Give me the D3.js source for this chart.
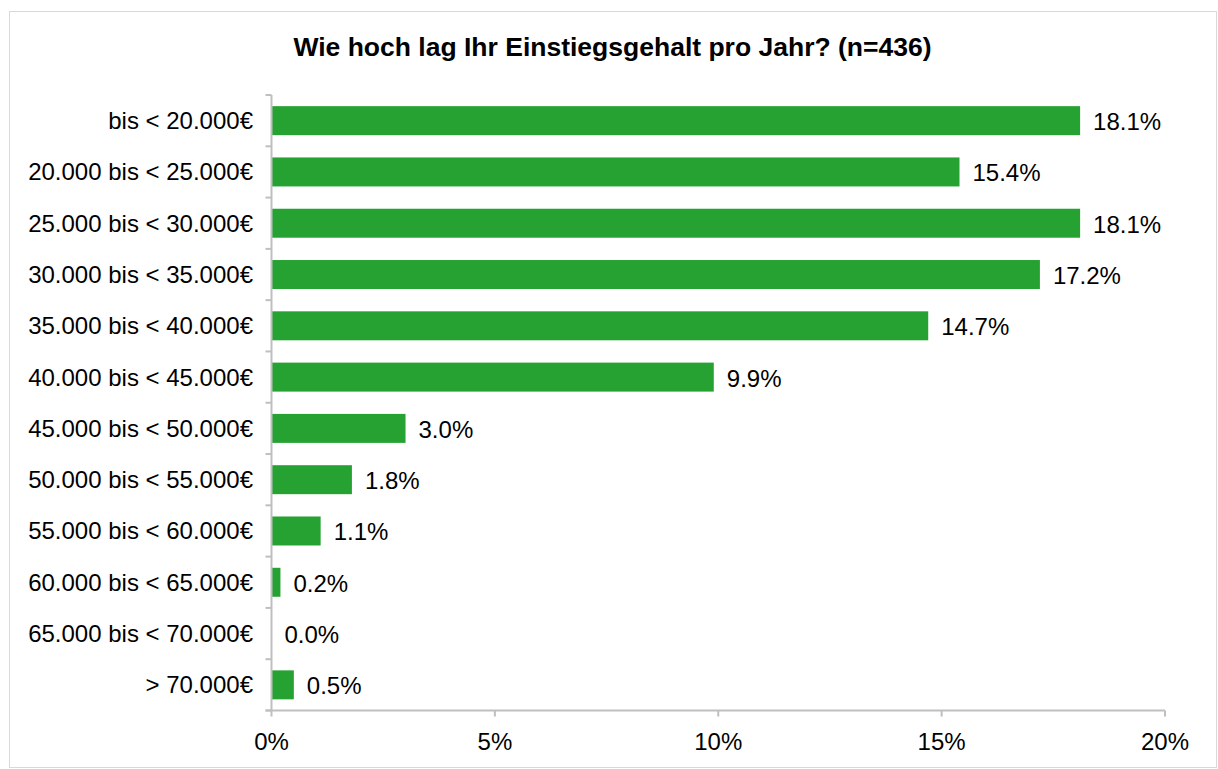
<!DOCTYPE html>
<html>
<head>
<meta charset="utf-8">
<script src="https://cdn.jsdelivr.net/npm/d3@7"></script>
<style>
  body { margin: 0; background: #fff; }
  text { font-family: "Liberation Sans", Arial, sans-serif; fill: #000; }
</style>
</head>
<body>
<div class="chart"></div>
<script>
// Einstiegsgehalt data
var categories = [
  'bis < 20.000€', '20.000 bis < 25.000€', '25.000 bis < 30.000€',
  '30.000 bis < 35.000€', '35.000 bis < 40.000€', '40.000 bis < 45.000€',
  '45.000 bis < 50.000€', '50.000 bis < 55.000€', '55.000 bis < 60.000€',
  '60.000 bis < 65.000€', '65.000 bis < 70.000€', '> 70.000€'
];
var percents = [18.1, 15.4, 18.1, 17.2, 14.7, 9.9, 3.0, 1.8, 1.1, 0.2, 0.0, 0.5];
var xTicks = [0, 5, 10, 15, 20];
var title = 'Wie hoch lag Ihr Einstiegsgehalt pro Jahr? (n=436)';

var w = 1218
  , h = 769
  , plotLeft = 271.5
  , plotRight = 1165
  , plotTop = 95
  , plotBottom = 710.5
  , axisColor = '#bfbfbf'
  , barColor = '#25a232'
  , labelSize = '24px';

var svg = d3.select('.chart')
            .append('svg')
            .attr('width', w)
            .attr('height', h);

// frame
svg.append('rect')
    .attr('x', 9.5)
    .attr('y', 11.5)
    .attr('width', 1207)
    .attr('height', 756)
    .attr('fill', 'none')
    .attr('stroke', '#d9d9d9');

svg.append('text')
    .attr('x', 612.5)
    .attr('y', 56)
    .attr('text-anchor', 'middle')
    .style('font-weight', 'bold')
    .style('font-size', '26.5px')
    .text(title);

var x = d3.scaleLinear().domain([0, 20]).range([plotLeft, plotRight]);
var y = d3.scaleBand().domain(categories).range([plotTop, plotBottom])
          .paddingInner(0.435).paddingOuter(0.2175);

// bars
svg.selectAll('rect.bar')
    .data(percents)
    .enter()
    .append('rect')
    .attr('class', 'bar')
    .attr('x', x(0))
    .attr('y', function (d, i) { return y(categories[i]); })
    .attr('width', function (d) { return x(d) - x(0); })
    .attr('height', y.bandwidth())
    .attr('fill', barColor);

// value labels
svg.selectAll('text.val')
    .data(percents)
    .enter()
    .append('text')
    .attr('class', 'val')
    .attr('x', function (d) { return x(d) + 13; })
    .attr('y', function (d, i) { return y(categories[i]) + y.bandwidth() / 2 + 1; })
    .attr('dy', '0.35em')
    .style('font-size', labelSize)
    .text(function (d) { return d.toFixed(1) + '%'; });

// y axis
var yAxis = svg.append('g');
yAxis.append('line')
    .attr('x1', plotLeft).attr('x2', plotLeft)
    .attr('y1', plotTop).attr('y2', plotBottom)
    .attr('stroke', axisColor).attr('stroke-width', 2);
var step = y.step();
yAxis.selectAll('line.tick')
    .data(d3.range(categories.length + 1))
    .enter()
    .append('line')
    .attr('x1', plotLeft - 6).attr('x2', plotLeft)
    .attr('y1', function (i) { return plotTop + i * step; })
    .attr('y2', function (i) { return plotTop + i * step; })
    .attr('stroke', axisColor).attr('stroke-width', 2);
yAxis.selectAll('text')
    .data(categories)
    .enter()
    .append('text')
    .attr('x', 253)
    .attr('y', function (d) { return y(d) + y.bandwidth() / 2; })
    .attr('dy', '0.35em')
    .attr('text-anchor', 'end')
    .style('font-size', labelSize)
    .text(function (d) { return d; });

// x axis
var xAxis = svg.append('g');
xAxis.append('line')
    .attr('x1', plotLeft - 6).attr('x2', plotRight)
    .attr('y1', plotBottom).attr('y2', plotBottom)
    .attr('stroke', axisColor).attr('stroke-width', 2);
xAxis.selectAll('line.tick')
    .data(xTicks)
    .enter()
    .append('line')
    .attr('x1', function (d) { return x(d); })
    .attr('x2', function (d) { return x(d); })
    .attr('y1', plotBottom).attr('y2', plotBottom + 6)
    .attr('stroke', axisColor).attr('stroke-width', 2);
xAxis.selectAll('text')
    .data(xTicks)
    .enter()
    .append('text')
    .attr('x', function (d) { return x(d); })
    .attr('y', 750)
    .attr('text-anchor', 'middle')
    .style('font-size', labelSize)
    .text(function (d) { return d + '%'; });
</script>
</body>
</html>
